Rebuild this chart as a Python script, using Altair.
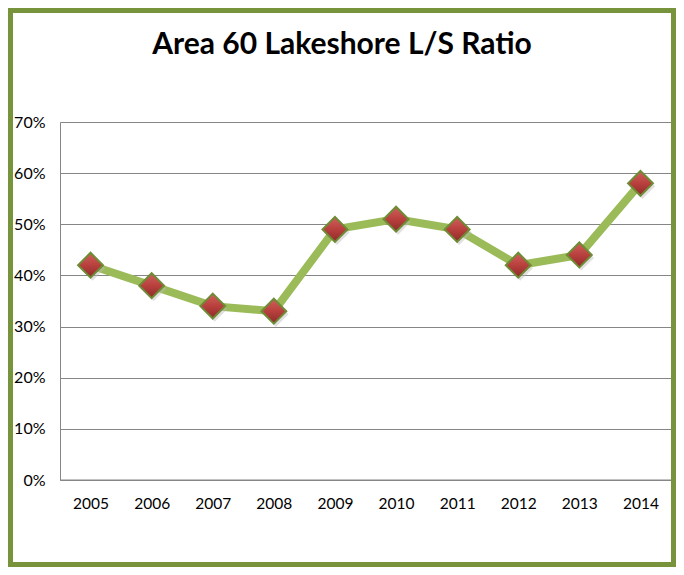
import altair as alt
import pandas as pd

years = ["2005", "2006", "2007", "2008", "2009", "2010", "2011", "2012", "2013", "2014"]
ratios = [0.42, 0.38, 0.34, 0.33, 0.49, 0.51, 0.49, 0.42, 0.44, 0.58]
title_text = "Area 60 Lakeshore L/S Ratio"
y_ticks = [0, 0.1, 0.2, 0.3, 0.4, 0.5, 0.6, 0.7]

df = pd.DataFrame({"year": years, "ratio": ratios})

W, H = 611, 358
PL, PT, PR, PB = 52, 114, 5, 87

x = alt.X("year:N", sort=years, title=None,
          scale=alt.Scale(paddingInner=0, paddingOuter=0),
          axis=alt.Axis(labelAngle=0, ticks=False, domain=False, labelPadding=16,
                        labelFont="Lato", labelFontSize=15.5, labelColor="#000000"))
y = alt.Y("ratio:Q", title=None, scale=alt.Scale(domain=[0, 0.7], nice=False),
          axis=alt.Axis(values=y_ticks, format=".0%", ticks=False, domain=True,
                        domainColor="#868686", gridColor="#868686", gridWidth=1,
                        labelPadding=15, labelFont="Lato", labelFontSize=16,
                        labelColor="#000000"))

grad = alt.Gradient(
    gradient="linear", x1=0, y1=0, x2=0, y2=1,
    stops=[alt.GradientStop(offset=0, color="#D0605C"),
           alt.GradientStop(offset=0.5, color="#B8403D"),
           alt.GradientStop(offset=1, color="#8E2B29")])

base = alt.Chart(df)
line = base.mark_line(color="#9BBB59", strokeWidth=8).encode(x=x, y=y)
shadow = base.mark_point(shape="diamond", filled=True, size=640, color="#BBBBBB",
                         opacity=0.45, xOffset=2, yOffset=3).encode(x=x, y=y)
pts = base.mark_point(shape="diamond", filled=True, size=620, fill=grad,
                      stroke="#6E8B35", strokeWidth=2, opacity=1).encode(x=x, y=y)

one = alt.Chart(pd.DataFrame({"t": [title_text]}))
bottom_rule = one.mark_rule(color="#868686", strokeWidth=1).encode(
    x=alt.value(0), x2=alt.value(W), y=alt.value(H))
border = one.mark_rect(fill=None, stroke="#77933C", strokeWidth=5).encode(
    x=alt.value(-PL + 2.5), x2=alt.value(W + PR - 2.5),
    y=alt.value(-PT + 2.5), y2=alt.value(H + PB - 2.5))
title = one.mark_text(font="Lato", fontSize=30, fontWeight="bold", color="#000000",
                      baseline="middle", align="center").encode(
    text="t:N", x=alt.value(282), y=alt.value(-77))

chart = alt.layer(bottom_rule, line, shadow, pts, border, title).properties(
    width=W, height=H,
    autosize=alt.AutoSizeParams(type="none"),
    padding={"left": PL, "top": PT, "right": PR, "bottom": PB},
).configure_view(stroke=None).configure(background="#ffffff")

chart.save("out.html", embed_options={"renderer": "svg", "actions": False})
